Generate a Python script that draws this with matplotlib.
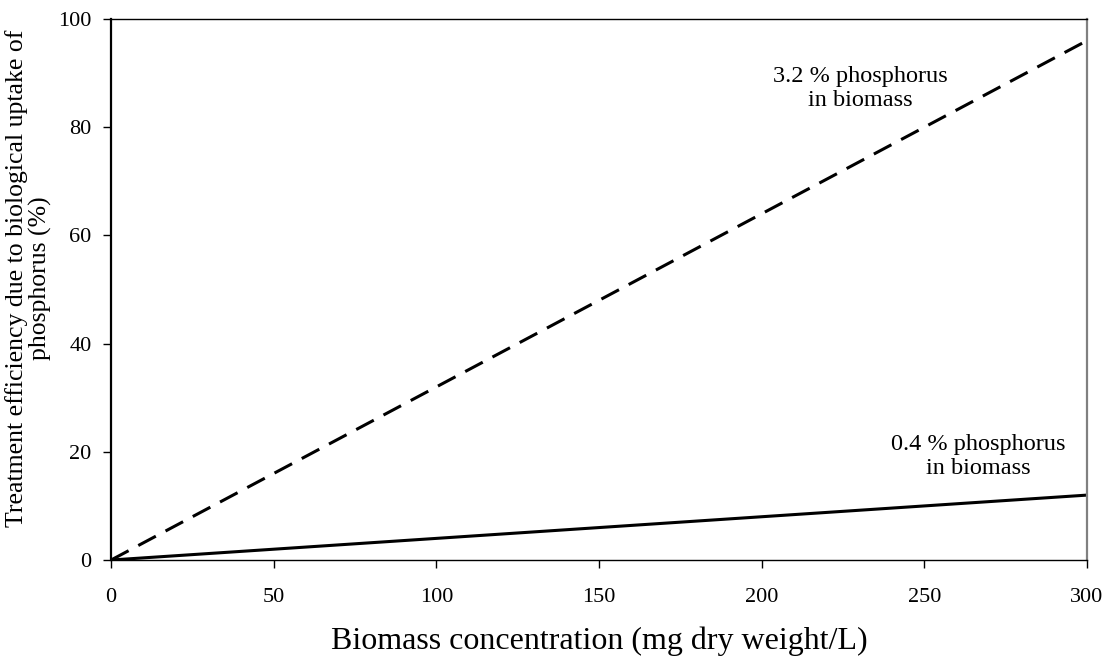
import matplotlib.pyplot as plt

# biomass concentration (mg dry weight/L)
biomass = [0, 300]
# treatment efficiency (%) for two phosphorus contents
eff_high_p = [0, 96]   # 3.2 % P
eff_low_p = [0, 12]    # 0.4 % P

xticks = [0, 50, 100, 150, 200, 250, 300]
yticks = [0, 20, 40, 60, 80, 100]

plt.rcParams['font.family'] = ['Liberation Serif', 'DejaVu Serif']

fig = plt.figure(figsize=(11.15, 6.57), dpi=100)
ax = fig.add_axes([0.0996, 0.1476, 0.8753, 0.8235])

ax.plot(biomass, eff_high_p, color='black', lw=2.2, dashes=(6.5, 3.6))
ax.plot(biomass, eff_low_p, color='black', lw=2.2)

ax.set_xlim(0, 300)
ax.set_ylim(0, 100)
ax.set_xticks(xticks)
ax.set_yticks(yticks)
ax.tick_params(direction='out', length=6, width=1, labelsize=16, pad=8)
ax.tick_params(axis='x', pad=14)

for side in ['top', 'bottom']:
    ax.spines[side].set_linewidth(1)
ax.spines['left'].set_linewidth(1.6)
ax.spines['right'].set_color('#808080')
ax.spines['right'].set_linewidth(1.6)

# labels for the two lines (baseline of the last line at y)
ax.text(230.2, 83.9, '3.2 % phosphorus\nin biomass', ha='center', va='baseline',
        fontsize=17.5, multialignment='center', linespacing=1.2)
ax.text(266.5, 15.9, '0.4 % phosphorus\nin biomass', ha='center', va='baseline',
        fontsize=17.5, multialignment='center', linespacing=1.2)

ax.set_xlabel('Biomass concentration (mg dry weight/L)', fontsize=23, labelpad=14.5)
ax.set_ylabel('Treatment efficiency due to biological uptake of\nphosphorus (%)',
              fontsize=18.5, linespacing=1.0)
ax.yaxis.set_label_coords(-0.061, 0.52)

fig.savefig('out.png', dpi=100)
